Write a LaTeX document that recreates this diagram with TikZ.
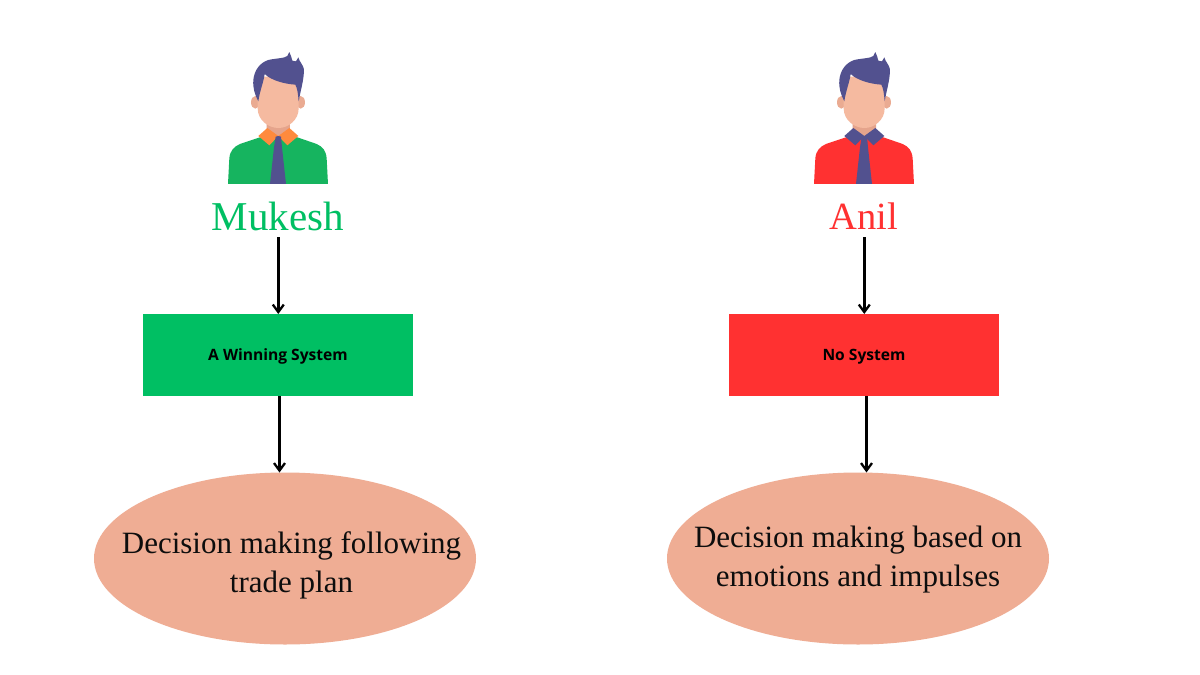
\documentclass[tikz,border=0pt]{standalone}
\usepackage{fontspec}
\setmainfont{Liberation Serif}
\newfontfamily\boxfont{Open Sans}
\usetikzlibrary{arrows.meta,shapes.geometric}
\definecolor{gr}{HTML}{00BF63}
\definecolor{rd}{HTML}{FF3131}
\definecolor{sal}{HTML}{EFAD94}
\definecolor{hair}{HTML}{52518F}
\definecolor{skin}{HTML}{F5BAA0}
\definecolor{neckc}{HTML}{E5A48C}
\definecolor{orng}{HTML}{FF8A3D}
\definecolor{shirtg}{HTML}{16B45F}
\tikzset{
  sysbox/.style={rectangle,minimum width=270pt,minimum height=82pt,inner sep=0pt,outer sep=0pt,text depth=0pt,font=\boxfont\bfseries\fontsize{15.6}{18}\selectfont,text=black},
  oval/.style={ellipse,fill=sal,minimum width=382pt,minimum height=172pt,inner sep=0pt,outer sep=0pt},
  ovaltext/.style={align=center,inner sep=0pt,font=\fontsize{31}{39}\selectfont,text=black!95},
  namelabel/.style={inner sep=0pt,font=\fontsize{41}{46}\selectfont},
  arrowline/.style={draw=black,line width=2.4pt,-{Straight Barb[length=7.5pt,width=11pt,line width=2.3pt]}},
}
\newcommand{\personfig}[4]{%
\begin{scope}[shift={(#1,#2)},x=0.3333pt,y=-0.3333pt]
  \fill[#3] (54,432) -- (58,355) .. controls (60,332) and (72,320) .. (90,312) -- (150,292) -- (205,285) -- (262,292) -- (320,312) .. controls (338,320) and (348,332) .. (350,355) -- (354,432) -- cycle;
  \fill[neckc] (170,235) -- (240,235) -- (240,272) -- (205,292) -- (170,272) -- cycle;
  \fill[#4] (145,288) -- (172,264) -- (205,288) -- (178,316) -- cycle;
  \fill[#4] (265,288) -- (238,264) -- (205,288) -- (232,316) -- cycle;
  \fill[hair] (197,290) -- (205,288) -- (213,290) -- (216,322) -- (228,432) -- (180,432) -- (192,322) -- cycle;
  \fill[neckc!70!skin] (136,187) ellipse (13 and 19);
  \fill[neckc!70!skin] (272,187) ellipse (13 and 19);
  \fill[skin] (143,110) -- (266,110) -- (266,205) .. controls (266,240) and (235,264) .. (205,264) .. controls (175,264) and (143,240) .. (143,205) -- cycle;
  \fill[hair] (145,184) .. controls (135,165) and (128,145) .. (130,120) .. controls (133,90) and (150,68) .. (175,60) .. controls (195,55) and (225,55) .. (232,48) -- (238,36) .. controls (243,45) and (245,55) .. (247,62) -- (258,64) -- (265,52) .. controls (268,65) and (280,75) .. (282,88) .. controls (282,120) and (272,150) .. (266,184) .. controls (264,160) and (262,145) .. (256,134) .. controls (225,132) and (185,122) .. (164,102) .. controls (160,130) and (150,150) .. (145,184) -- cycle;
\end{scope}}
\begin{document}
\begin{tikzpicture}[x=1pt,y=-1pt]
\useasboundingbox[fill=white] (0,0) rectangle (1200,675);
\personfig{210}{40}{shirtg}{orng}
\personfig{796}{40}{rd}{hair}
\node[namelabel,text=gr] (mukesh) at (278,216.5) {Mukesh};
\node[namelabel,text=rd,font=\fontsize{38.5}{46}\selectfont] (anil) at (864,216.5) {Anil};
\node[sysbox,fill=gr] (winbox) at (278,355) {A Winning System};
\node[sysbox,fill=rd] (nobox) at (864,355) {No System};
\node[oval] (ovalL) at (285,558.5) {};
\node[oval] (ovalR) at (858,558.5) {};
\node[ovaltext] (txtL) at (291.5,565) {Decision making following\\trade plan};
\node[ovaltext] (txtR) at (858,559.5) {Decision making based on\\emotions and impulses};
\coordinate (mukeshOut) at (278.3,237);
\coordinate (anilOut) at (864.3,237);
\draw[arrowline] (mukeshOut) -- ([xshift=0.3pt]winbox.north);
\draw[arrowline] (anilOut) -- ([xshift=0.3pt]nobox.north);
\draw[arrowline] ([xshift=1.5pt]winbox.south) -- ([xshift=-5.5pt]ovalL.north);
\draw[arrowline] ([xshift=2.5pt]nobox.south) -- ([xshift=8.5pt]ovalR.north);
\end{tikzpicture}
\end{document}
